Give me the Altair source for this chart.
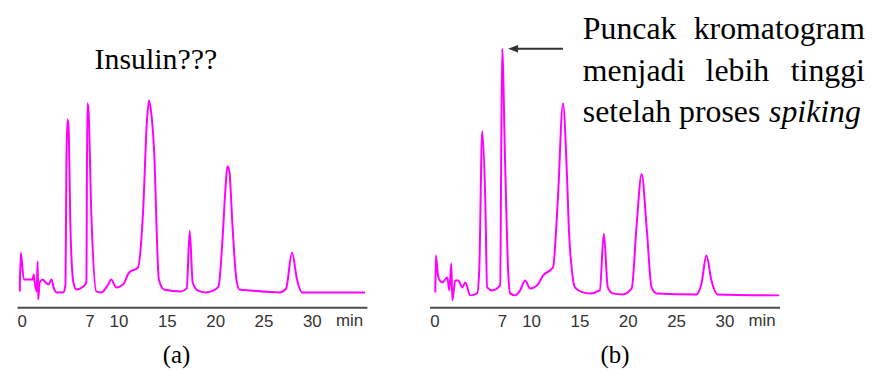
import altair as alt
import pandas as pd

# ---- data (retention time in min, detector response in arbitrary units) ----
time_a = [-0.21, -0.10, 0.21, 0.72, 1.13, 1.23, 1.34, 1.54, 1.64, 1.70, 1.85, 2.16, 2.47, 2.77, 3.08,
          3.29, 3.60, 4.32, 4.52, 4.62, 4.73, 4.83, 5.04, 5.34, 5.65, 6.37, 6.68, 6.78, 6.89, 7.19,
          7.71, 8.22, 8.94, 9.25, 9.76, 10.48, 11.10, 12.02, 12.54, 12.95, 13.16, 13.36, 13.67, 14.18,
          14.70, 16.44, 17.06, 17.37, 17.68, 18.19, 19.01, 19.84, 20.35, 20.76, 21.06, 21.27, 21.48,
          21.79, 22.20, 22.51, 23.64, 26.72, 27.34, 27.95, 28.47, 28.98, 30.83, 35.50]
resp_a = [16, 55, 28, 28, 28, 33, 25, 16, 46, 8, 25, 28, 25, 23, 28,
          20, 15, 15, 23, 148, 189, 183, 78, 25, 18, 21, 25, 205, 200, 95,
          16, 15, 23, 28, 20, 23, 35, 40, 95, 188, 208, 198, 161, 28,
          18, 16, 19, 77, 25, 17, 15, 17, 21, 68, 118, 142, 136,
          83, 28, 18, 17, 15, 19, 55, 28, 15, 15, 15]

time_b = [0.10, 0.15, 0.41, 0.82, 1.34, 1.55, 1.75, 1.86, 2.16, 2.47, 2.89, 3.20, 3.71, 4.43, 4.64,
          4.95, 5.26, 5.46, 5.98, 6.80, 7.01, 7.32, 7.63, 7.84, 8.35, 8.87, 9.38, 9.90, 10.62, 11.24,
          12.27, 12.78, 13.30, 13.71, 13.92, 14.23, 14.54, 15.36, 16.08, 17.11, 17.53, 17.94, 18.45,
          19.48, 20.41, 20.93, 21.44, 21.96, 22.47, 22.99, 27.11, 27.63, 28.14, 28.66, 29.28, 35.67]
resp_b = [15, 52, 30, 25, 30, 17, 44, 7, 27, 27, 20, 25, 12, 14, 37,
          177, 110, 20, 17, 22, 260, 144, 37, 14, 12, 17, 27, 19, 22, 32,
          40, 110, 205, 134, 77, 37, 20, 15, 14, 17, 74, 20, 14,
          13, 19, 84, 134, 80, 20, 14, 13, 24, 52, 27, 13, 12]

tick_values = [0, 7, 10, 15, 20, 25, 30]
unit_label = "min"
panel_titles = ["(a)", "(b)"]

insulin_text = ["Insulin???"]
insulin_t = [13.87]
insulin_r = [240]

annot_words = ["Puncak", "kromatogram", "menjadi", "lebih", "tinggi", "setelah proses", "spiking"]
annot_t = [15.36, 44.54, 15.36, 31.34, 44.54, 15.36, 44.12]
annot_r = [270, 270, 228, 228, 228, 186, 186]
annot_kind = ["left", "right", "left", "center", "right", "left", "italic"]

arrow_t = [8.45, 13.3]
arrow_r = [260, 260]
arrow_head_t = [8.14]

# ---- styling ----
MAGENTA = "#ff00ff"
SERIF = "Liberation Serif"
SANS = "Liberation Sans"
X_DOMAIN = [-0.5, 35.7]
Y_DOMAIN = [0, 300]
W, H = 352, 300


def x_enc(title, title_x):
    return alt.X(
        "t:Q",
        scale=alt.Scale(domain=X_DOMAIN, nice=False, zero=False),
        axis=alt.Axis(
            values=tick_values, title=title, grid=False, ticks=False, tickSize=0,
            labelPadding=6, labelFlush=False, labelOverlap=False,
            domainColor="#4d4d4d", domainWidth=2,
            labelFont=SANS, labelFontSize=17, labelColor="#333333",
            titleFont=SERIF, titleFontSize=25, titleFontWeight="normal", titleColor="#000000",
            titleX=title_x, titleY=56, titleBaseline="alphabetic", titleAlign="center",
        ),
    )


def y_enc():
    return alt.Y("r:Q", scale=alt.Scale(domain=Y_DOMAIN, nice=False, zero=False), axis=None)


def panel(times, resps, title, title_x, extra_layers):
    df = pd.DataFrame({"t": times, "r": resps, "i": list(range(len(times)))})
    line = alt.Chart(df).mark_line(color=MAGENTA, strokeWidth=2, interpolate="monotone").encode(
        x=x_enc(title, title_x), y=y_enc(), order="i:Q"
    )
    unit = alt.Chart(pd.DataFrame({"t": [33.9], "r": [-19], "s": [unit_label]})).mark_text(
        font=SANS, fontSize=17, color="#333333", align="center", baseline="alphabetic"
    ).encode(x="t:Q", y="r:Q", text="s:N")
    return alt.layer(line, unit, *extra_layers).properties(width=W, height=H)


insulin = alt.Chart(pd.DataFrame({"t": insulin_t, "r": insulin_r, "s": insulin_text})).mark_text(
    font=SERIF, fontSize=30, color="#000000", align="center", baseline="alphabetic"
).encode(x="t:Q", y="r:Q", text="s:N")

annot_df = pd.DataFrame({"t": annot_t, "r": annot_r, "s": annot_words, "k": annot_kind})
annot_layers = []
for kind, align, style in [("left", "left", "normal"), ("center", "center", "normal"),
                           ("right", "right", "normal"), ("italic", "right", "italic")]:
    annot_layers.append(
        alt.Chart(annot_df).transform_filter(alt.datum.k == kind).mark_text(
            font=SERIF, fontSize=32, color="#000000", align=align, baseline="alphabetic",
            fontStyle=style,
        ).encode(x="t:Q", y="r:Q", text="s:N")
    )

arrow_df = pd.DataFrame({"t": [arrow_t[0]], "t2": [arrow_t[1]], "r": [arrow_r[0]]})
arrow_shaft = alt.Chart(arrow_df).mark_rule(color="#333333", strokeWidth=2).encode(
    x="t:Q", x2="t2:Q", y="r:Q"
)
arrow_head = alt.Chart(pd.DataFrame({"t": arrow_head_t, "r": [arrow_r[0]]})).mark_point(
    shape="M-1,0L1,-0.75L1,0.75Z", filled=True, color="#333333", size=100, opacity=1
).encode(x="t:Q", y="r:Q")

chart_a = panel(time_a, resp_a, panel_titles[0], 160, [insulin])
chart_b = panel(time_b, resp_b, panel_titles[1], 186, annot_layers + [arrow_shaft, arrow_head])

chart = alt.hconcat(chart_a, chart_b, spacing=63).properties(
    bounds="flush",
    padding={"left": 7, "top": 0, "right": 0, "bottom": 0},
).configure_view(stroke=None)

chart.save("out.html", embed_options={"renderer": "svg", "actions": False})
